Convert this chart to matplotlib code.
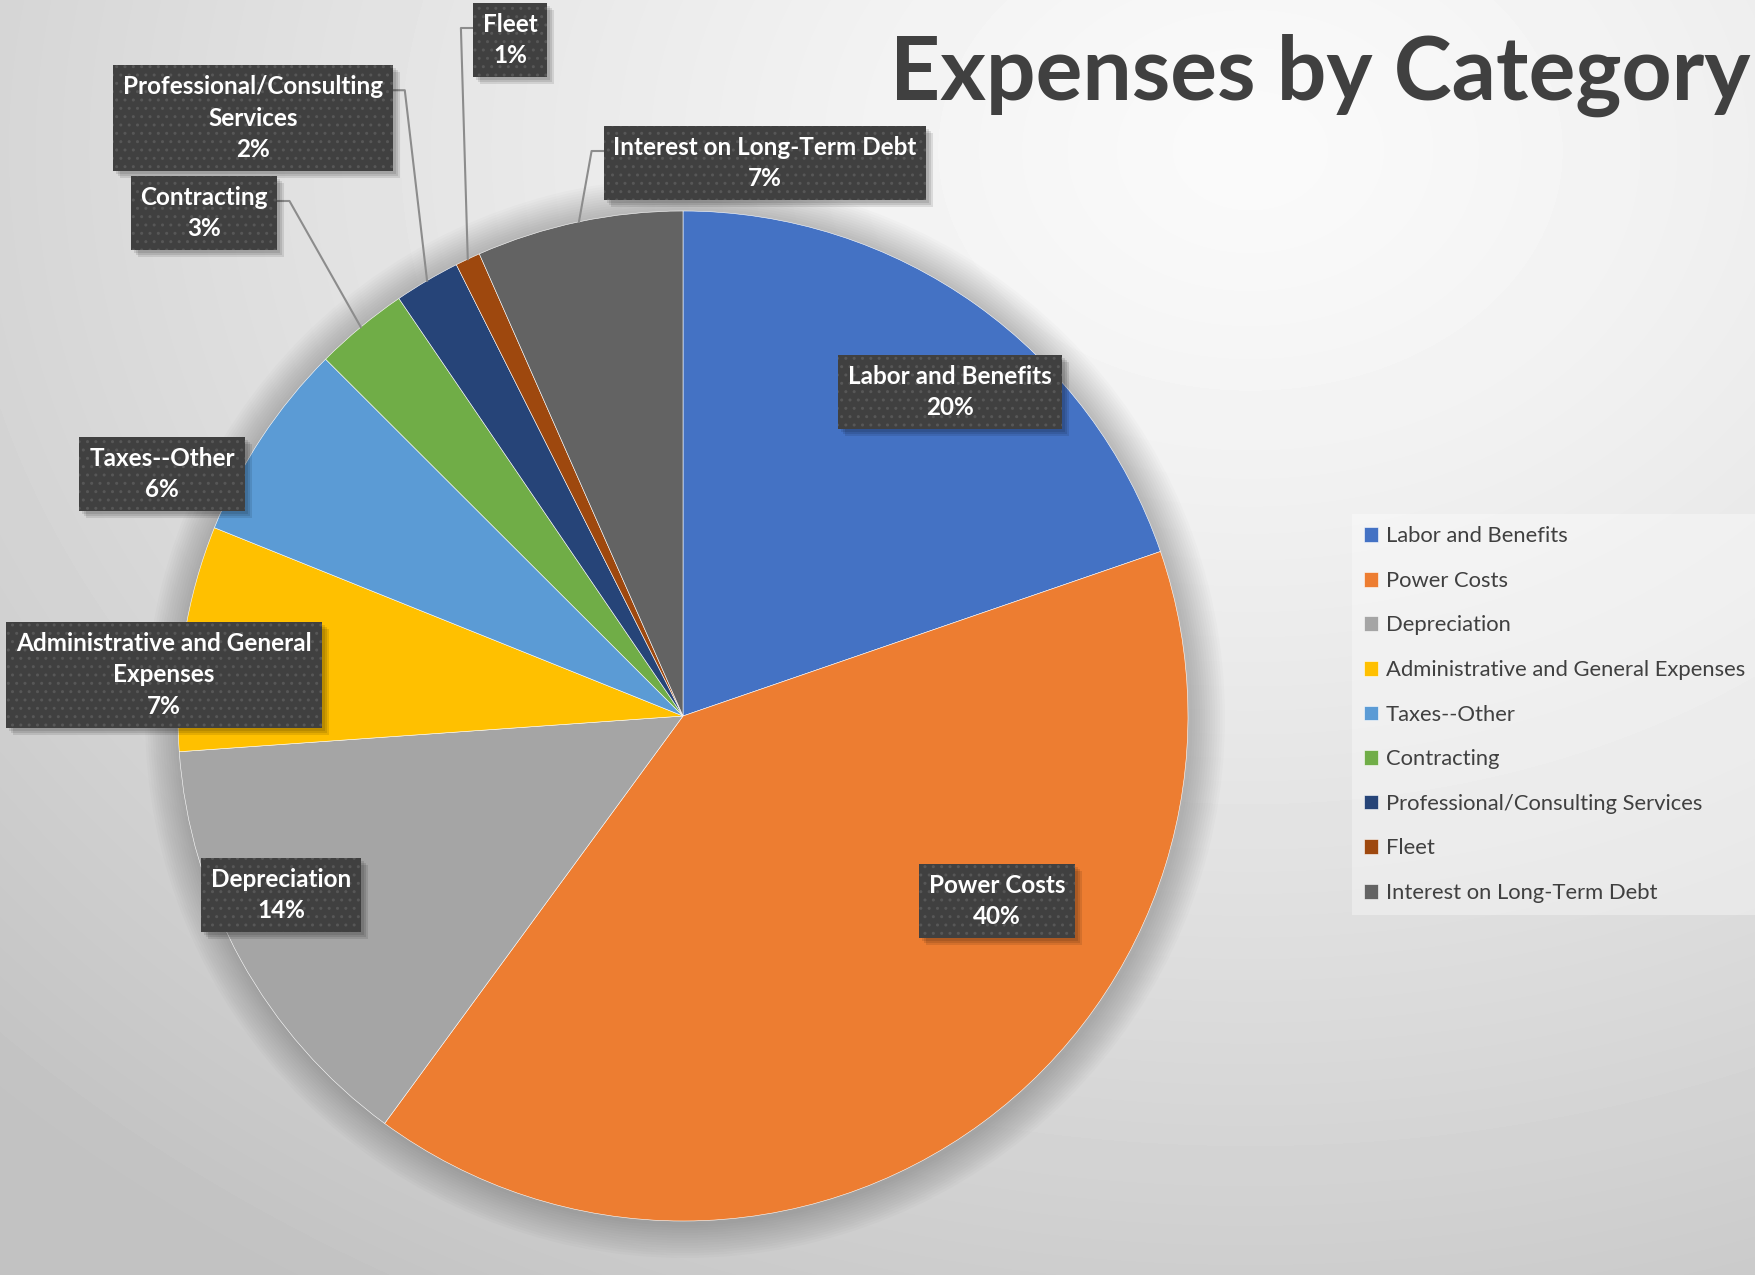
import numpy as np
import matplotlib
matplotlib.use('Agg')
import matplotlib.pyplot as plt
import matplotlib.patches as mpatches

categories = ['Labor and Benefits', 'Power Costs', 'Depreciation',
              'Administrative and General Expenses', 'Taxes--Other', 'Contracting',
              'Professional/Consulting Services', 'Fleet', 'Interest on Long-Term Debt']
shares = [19.7, 40.3, 13.8, 7.2, 6.4, 3.0, 2.1, 0.8, 6.6]
colors = ['#4472C4', '#ED7D31', '#A5A5A5', '#FFC000', '#5B9BD5',
          '#70AD47', '#264478', '#9E480E', '#636363']

# names as wrapped inside the data labels
label_names = ['Labor and Benefits', 'Power Costs', 'Depreciation',
               'Administrative and General\nExpenses', 'Taxes--Other', 'Contracting',
               'Professional/Consulting\nServices', 'Fleet', 'Interest on Long-Term Debt']

W, H = 1755, 1275
plt.rcParams['font.family'] = ['Lato', 'DejaVu Sans']
plt.rcParams['hatch.linewidth'] = 1.0

fig = plt.figure(figsize=(W / 100, H / 100), dpi=100)
ax = fig.add_axes([0, 0, 1, 1])

# gray backdrop, lightest toward the top right
yy, xx = np.mgrid[0:H, 0:W]
d = np.hypot(xx - 1250, (yy - 150) * 1.3)
shade = (250 - 56 * np.minimum(1, d / 1750) ** 1.3) / 255
ax.imshow(shade, cmap='gray', vmin=0, vmax=1, extent=[0, W, 0, H],
          origin='upper', zorder=0, interpolation='bilinear')

# pie, in pixel units (y measured from the bottom)
cx, cy, R = 683, H - 716, 505
for i in range(14):
    ax.add_patch(mpatches.Circle((cx + 2, cy - 2), R + 2.5 * (i + 1), fc='black',
                                 ec='none', alpha=0.016, zorder=1))
wedges, _ = ax.pie(shares, colors=colors, startangle=90, counterclock=False,
                   center=(cx, cy), radius=R,
                   wedgeprops=dict(ec='white', lw=0.4, zorder=2))
ax.set_xlim(0, W)
ax.set_ylim(0, H)
ax.set_aspect('equal')
ax.axis('off')

# label box centres, pixels from top-left
label_pos = [(950, 392), (997, 901), (281, 895), (164, 675), (162, 474),
             (204, 213), (253, 118), (510, 40), (765, 163)]
leader = {5: 'right', 6: 'right', 7: 'left', 8: 'left'}

box = dict(boxstyle='square,pad=0.4', fc='#404040', ec='#575757', lw=0, hatch='..')
texts = []
for i, (name, val) in enumerate(zip(label_names, shares)):
    x, y = label_pos[i]
    t = ax.text(x, H - y, f'{name}\n{round(val):.0f}%', ha='center', va='center',
                fontsize=17.5, fontweight='bold', color='white', linespacing=1.45,
                zorder=5, bbox=box)
    texts.append(t)

ax.text(1750, H - 100, 'Expenses by Category', ha='right', va='baseline',
        fontsize=63, fontweight='bold', color='#404040', zorder=5)

ax.legend(wedges, categories, loc='lower left', bbox_to_anchor=(1352 / W, (H - 915) / H),
          bbox_transform=fig.transFigure, frameon=True, fancybox=False,
          facecolor='white', framealpha=0.35, edgecolor='none', fontsize=15.8,
          labelcolor='#404040', handlelength=0.65, handleheight=0.65,
          handletextpad=0.35, labelspacing=1.12, borderpad=0.55, borderaxespad=0)

# drop shadows behind the boxes, leader lines from the small slices
fig.canvas.draw()
inv = ax.transData.inverted()
for i, t in enumerate(texts):
    bb = t.get_bbox_patch().get_window_extent()
    (x0, y0), (x1, y1) = inv.transform([(bb.x0, bb.y0), (bb.x1, bb.y1)])
    for k in (3, 5, 7):
        ax.add_patch(mpatches.Rectangle((x0 + k, y0 - k), x1 - x0, y1 - y0,
                                        fc='black', ec='none', alpha=0.1, zorder=4))
    if i in leader:
        w = wedges[i]
        a = np.deg2rad((w.theta1 + w.theta2) / 2)
        px, py = cx + R * np.cos(a), cy + R * np.sin(a)
        ly = y1 - 25
        if leader[i] == 'right':
            xs = [x1, x1 + 12, px]
        else:
            xs = [x0, x0 - 12, px]
        ax.plot(xs, [ly, ly, py], color='#8c8c8c', lw=1.5, zorder=3)

fig.savefig('out.png', dpi=100)
